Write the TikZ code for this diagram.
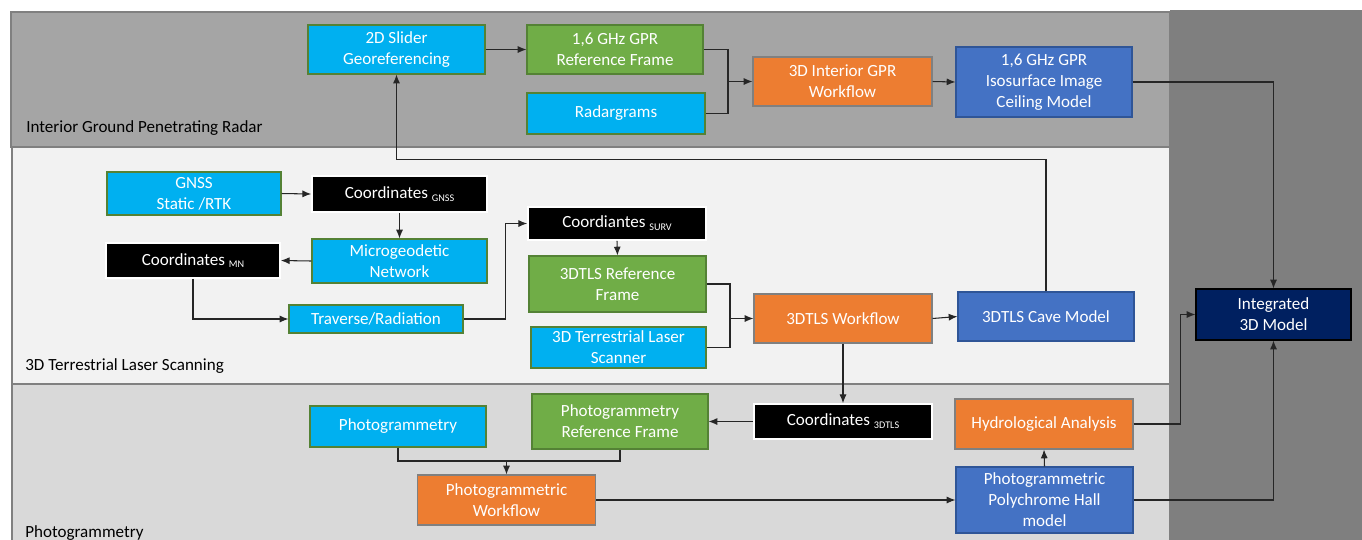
\documentclass[tikz,border=0pt]{standalone}
\usepackage{fontspec}
\setmainfont{Carlito}
\usetikzlibrary{arrows.meta}
\definecolor{cyanbx}{HTML}{00B0F0}
\definecolor{greenbx}{HTML}{70AD47}
\definecolor{orangebx}{HTML}{ED7D31}
\definecolor{bluebx}{HTML}{4472C4}
\definecolor{navybx}{HTML}{002060}
\definecolor{greenln}{HTML}{548235}
\definecolor{blueln}{HTML}{2F5597}
\definecolor{bandtop}{HTML}{A5A5A5}
\definecolor{bandmid}{HTML}{F2F2F2}
\definecolor{bandbot}{HTML}{D9D9D9}
\definecolor{bandside}{HTML}{7F7F7F}
\newcommand{\lowtxt}[1]{\raisebox{-0.35ex}{\fontsize{5.8}{6}\selectfont #1}}

\begin{document}
\begin{tikzpicture}[x=0.02cm,y=-0.02cm,
    font=\fontsize{9.7}{11.9}\selectfont,
    bx/.style={draw, text=white, align=center, inner sep=0pt, line width=0.6pt},
    sz/.style 2 args={minimum width=#1*0.02cm, minimum height=#2*0.02cm},
    inbox/.style={bx, fill=cyanbx, draw=greenln},
    refbox/.style={bx, fill=greenbx, draw=greenln},
    wfbox/.style={bx, fill=orangebx, draw=gray},
    modbox/.style={bx, fill=bluebx, draw=blueln},
    crdbox/.style={bx, fill=black, draw=white, line width=0.9pt},
    band/.style={draw=gray, line width=0.6pt},
    lbl/.style={anchor=west, inner sep=0pt},
    arr/.style={-{Latex[length=5pt,width=4pt]}, line width=0.6pt, draw=black!85},
    ln/.style={line width=0.6pt, draw=black!85}
  ]
    \clip (0,0) rectangle (1362,539);
    \fill[white] (0,0) rectangle (1362,539);
    \filldraw[band, fill=bandtop] (11,12) rectangle (1170,147);
    \filldraw[band, fill=bandmid] (12,147) rectangle (1170,384);
    \filldraw[band, fill=bandbot] (12,384) rectangle (1170,550);
    \fill[bandside] (1170,10) rectangle (1362,550);
    \node[lbl] (lgpr) at (26,128) {Interior Ground Penetrating Radar};
    \node[lbl] (ltls) at (25,366.5) {3D Terrestrial Laser Scanning};
    \node[lbl] (lph) at (25,533) {Photogrammetry};

    \node[inbox, sz={177}{49}] (slider) at (396.5,49.5) {2D Slider\\Georeferencing};
    \node[refbox, sz={176}{49}] (gprref) at (615,49.5) {1,6 GHz GPR\\Reference Frame};
    \node[inbox, sz={178}{41}] (radar) at (616,113.5) {Radargrams};
    \node[wfbox, sz={179}{49}] (gprwf) at (842.5,81.5) {3D Interior GPR\\Workflow};
    \node[modbox, sz={176}{70}] (iso) at (1044,82) {1,6 GHz GPR\\Isosurface Image\\Ceiling Model};
    \node[bx, fill=navybx, draw=black, sz={155}{51}] (integ) at (1273.5,314.5) {Integrated\\3D Model};

    \node[inbox, sz={174}{43}] (gnss) at (194,193.5) {GNSS\\Static /RTK};
    \node[crdbox, sz={175}{36}] (cgnss) at (399.5,194) {Coordinates \lowtxt{GNSS}};
    \node[inbox, sz={175}{44}] (micro) at (399.5,261) {Microgeodetic\\Network};
    \node[crdbox, sz={174}{35}] (cmn) at (193,260.5) {Coordinates \lowtxt{MN}};
    \node[inbox, sz={174}{28}] (trav) at (376,319) {Traverse/Radiation};
    \node[crdbox, sz={178}{33}] (surv) at (617,223.5) {Coordiantes \lowtxt{SURV}};
    \node[refbox, sz={177}{56}] (tlsref) at (617.5,284) {3DTLS Reference\\Frame};
    \node[inbox, sz={175}{41}] (scan) at (618.5,347.5) {3D Terrestrial Laser\\Scanner};
    \node[wfbox, sz={178}{49}] (tlswf) at (843,318.5) {3DTLS Workflow};
    \node[modbox, sz={176}{49}] (cave) at (1046,316.5) {3DTLS Cave Model};

    \node[inbox, sz={176}{41}] (photo) at (398,426.5) {Photogrammetry};
    \node[refbox, sz={176}{55}] (phref) at (620,421.5) {Photogrammetry\\Reference Frame};
    \node[wfbox, sz={178}{50}] (phwf) at (506.5,500) {Photogrammetric\\Workflow};
    \node[crdbox, sz={178}{35}] (c3d) at (843,421.5) {Coordinates \lowtxt{3DTLS}};
    \node[wfbox, sz={178}{50}] (hydro) at (1044,424) {Hydrological Analysis};
    \node[modbox, sz={177}{66}] (poly) at (1044.5,500) {Photogrammetric\\Polychrome Hall\\model};

    \coordinate (gprj) at (728,81.5);
    \coordinate (tlsj) at (730,318.5);
    \coordinate (phj) at (506.5,461);

    \draw[arr] (slider.east) -- (gprref.west);
    \draw[ln] (gprref.east) -| (gprj);
    \draw[ln] (radar.east) -| (gprj);
    \draw[arr] (gprj) -- (gprwf.west);
    \draw[arr] (gprwf.east) -- (iso.west);
    \draw[arr] (iso.east) -| (integ.north);

    \draw[arr] (gnss.east) -- (cgnss.west);
    \draw[arr] (cgnss.south) -- (micro.north);
    \draw[arr] (micro.west) -- (cmn.east);
    \draw[arr] (cmn.south) |- (trav.west);
    \draw[arr] (trav.east) -- ++(42,0) |- (surv.west);
    \draw[arr] (surv.south) -- (tlsref.north);
    \draw[ln] (tlsref.east) -| (tlsj);
    \draw[ln] (scan.east) -| (tlsj);
    \draw[arr] (tlsj) -- (tlswf.west);
    \draw[arr] (tlswf.east) -- (cave.west);
    \draw[arr] (cave.north) -- ++(0,-132) -| (slider.south);
    \draw[arr] (tlswf.south) -- (c3d.north);

    \draw[arr] (c3d.west) -- (phref.east);
    \draw[ln] (photo.south) |- (phj);
    \draw[ln] (phref.south) |- (phj);
    \draw[arr] (phj) -- (phwf.north);
    \draw[arr] (phwf.east) -- (poly.west);
    \draw[arr] (poly.north) -- (hydro.south);
    \draw[arr] (hydro.east) -- ++(47,0) |- (integ.west);
    \draw[arr] (poly.east) -| (integ.south);
  \end{tikzpicture}
\end{document}
